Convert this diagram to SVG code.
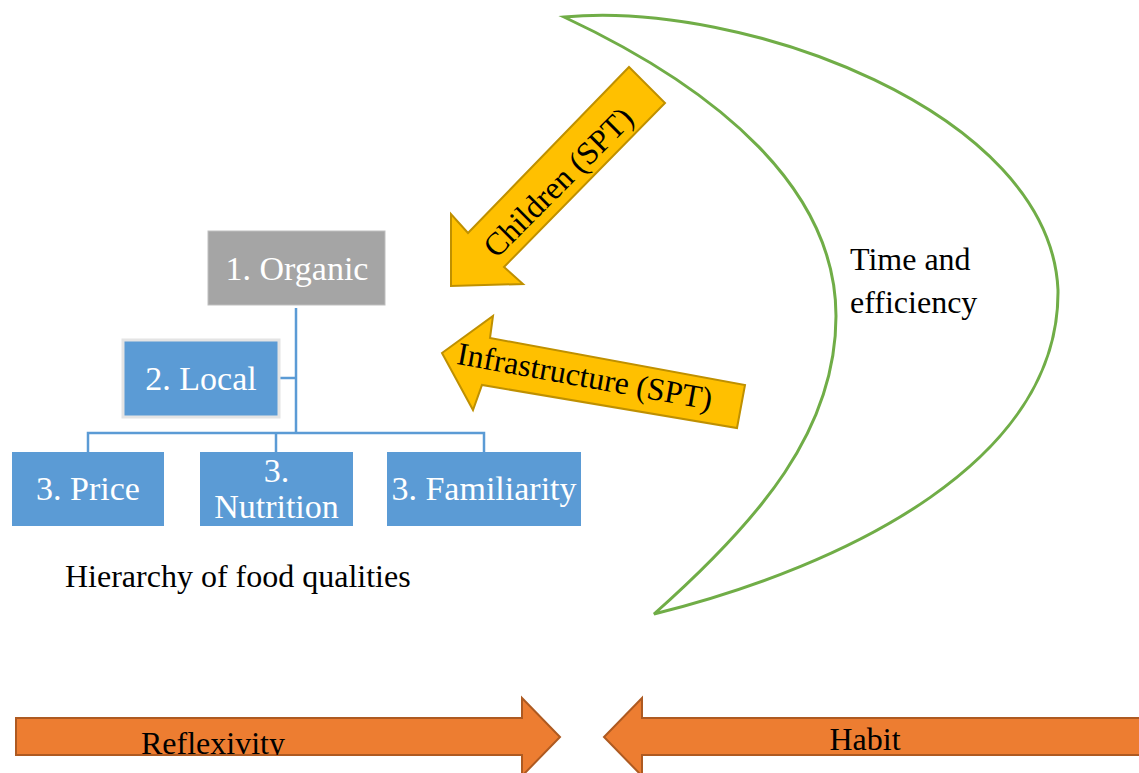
<svg xmlns="http://www.w3.org/2000/svg" width="1139" height="773" viewBox="0 0 1139 773">
<defs>
<style>
text{font-family:"Liberation Serif","Times New Roman",serif;}
.box{fill:#5B9BD5;}
.wt{fill:#FFFFFF;font-size:34px;text-anchor:middle;}
.bt{fill:#000000;font-size:32px;}
.conn{fill:none;stroke:#5B9BD5;stroke-width:2.5;}
.yarrow{fill:#FFC000;stroke:#BF9000;stroke-width:2;stroke-linejoin:miter;}
.oarrow{fill:#ED7D31;stroke:#AE5A21;stroke-width:2;}
</style>
<clipPath id="refclip"><rect x="16" y="700" width="506" height="55"/></clipPath>
</defs>
<rect width="1139" height="773" fill="#FFFFFF"/>

<g id="moon">
<path d="M564,17 C740,0 1050,110 1058,290 C1060,460 850,565 654,614 C760,520 836,430 836,316 C836,190 720,90 564,17 Z" fill="none" stroke="#70AD47" stroke-width="3"/>
<text class="bt" x="850" y="270">Time and</text>
<text class="bt" x="850" y="313">efficiency</text>
</g>

<g id="connectors">
<path class="conn" d="M296,308 V433"/>
<path class="conn" d="M279,378 H296"/>
<path class="conn" d="M88,452 V433 H484 V452"/>
<path class="conn" d="M276,433 V452"/>
</g>

<g id="organic">
<rect x="208" y="231" width="177" height="74" fill="#A5A5A5" stroke="#BFBFBF" stroke-width="1"/>
<text class="wt" x="297" y="280">1. Organic</text>
</g>

<g id="local">
<rect x="123" y="340" width="156" height="77" class="box" stroke="#E4E4E4" stroke-width="3"/>
<text class="wt" x="201" y="390">2. Local</text>
</g>

<g id="price">
<rect x="12" y="452" width="152" height="74" class="box"/>
<text class="wt" x="88" y="500">3. Price</text>
</g>

<g id="nutrition">
<rect x="200" y="452" width="153" height="74" class="box"/>
<text class="wt" x="276.5" y="482">3.</text>
<text class="wt" x="276.5" y="518">Nutrition</text>
</g>

<g id="familiarity">
<rect x="387" y="452" width="194" height="74" class="box"/>
<text class="wt" x="484" y="500">3. Familiarity</text>
</g>

<g id="hierarchy-label">
<text class="bt" x="65" y="587">Hierarchy of food qualities</text>
</g>

<g id="children">
<polygon class="yarrow" points="629,67 665,103 504,267 523,284 451,286 451,214 468,233"/>
<text class="bt" x="0" y="0" text-anchor="middle" dominant-baseline="central" transform="translate(558,182) rotate(-45)">Children (SPT)</text>
</g>

<g id="infrastructure">
<polygon class="yarrow" points="442,353 493,316 490,338 745,385 737,428 482,385 473,410"/>
<text class="bt" x="0" y="0" text-anchor="middle" dominant-baseline="central" transform="translate(585,376) rotate(10.3)">Infrastructure (SPT)</text>
</g>

<g id="reflexivity">
<polygon class="oarrow" points="16,718 522,718 522,698 560,737 522,776 522,755 16,755"/>
<text class="bt" x="141" y="754" clip-path="url(#refclip)">Reflexivity</text>
</g>

<g id="habit">
<polygon class="oarrow" points="1141,718 642,718 642,698 604,737 642,776 642,755 1141,755"/>
<text class="bt" x="865" y="750" text-anchor="middle">Habit</text>
</g>
</svg>
